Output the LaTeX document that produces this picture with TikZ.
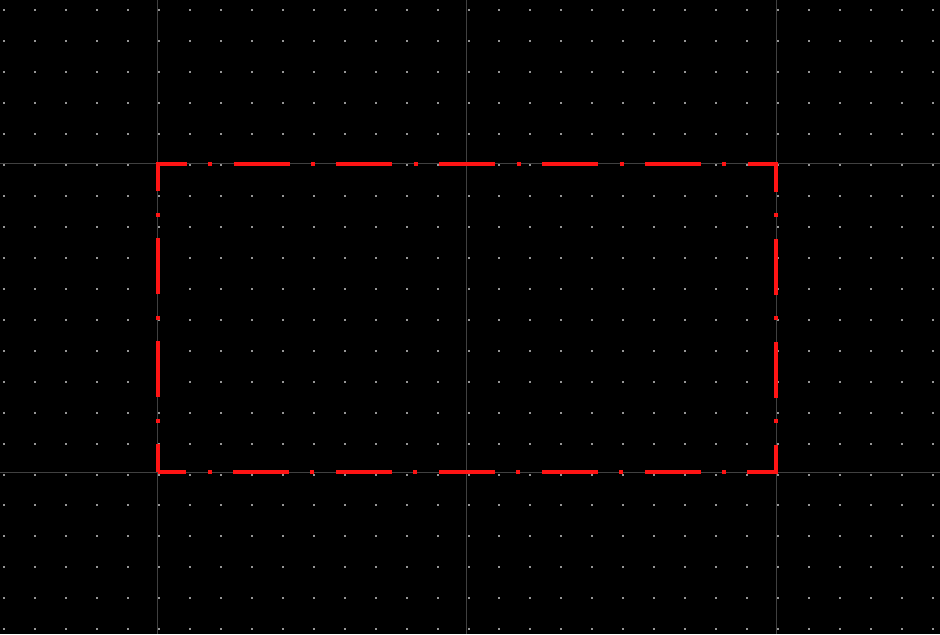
\documentclass[tikz,border=0pt]{standalone}
\usepackage{tikz}
\definecolor{gridgray}{RGB}{64,64,64}
\definecolor{dotgray}{RGB}{150,150,150}
\definecolor{framered}{RGB}{255,20,20}
\tikzset{
  gridline/.style={draw=gridgray,line width=0.5pt},
  frameline/.style={draw=framered,line width=2pt,line join=miter,
    dash pattern=on 28pt off 10.72pt on 2pt off 10.72pt,dash phase=14pt}
}
\begin{document}
\begin{tikzpicture}[x=0.5pt,y=-0.5pt]
\fill[black] (0,0) rectangle (940,634);
\useasboundingbox (0,0) rectangle (940,634);
% dots
\foreach \i in {-5,...,25}
  \foreach \j in {-5,...,15}
    \fill[dotgray] ({158+\i*30.95},{164+\j*30.95}) rectangle ++(2,2);
% major grid
\foreach \gx in {157,466.5,776}
  \draw[gridline] (\gx,0) -- (\gx,634);
\foreach \gy in {163,472.5}
  \draw[gridline] (0,\gy) -- (940,\gy);
% frame
\coordinate (bl) at (158,472);
\coordinate (tl) at (158,164);
\coordinate (tr) at (776,164);
\coordinate (br) at (776,472);
\draw[frameline] (bl) -- (tl) -- (tr) -- (br) -- cycle;
\end{tikzpicture}
\end{document}
